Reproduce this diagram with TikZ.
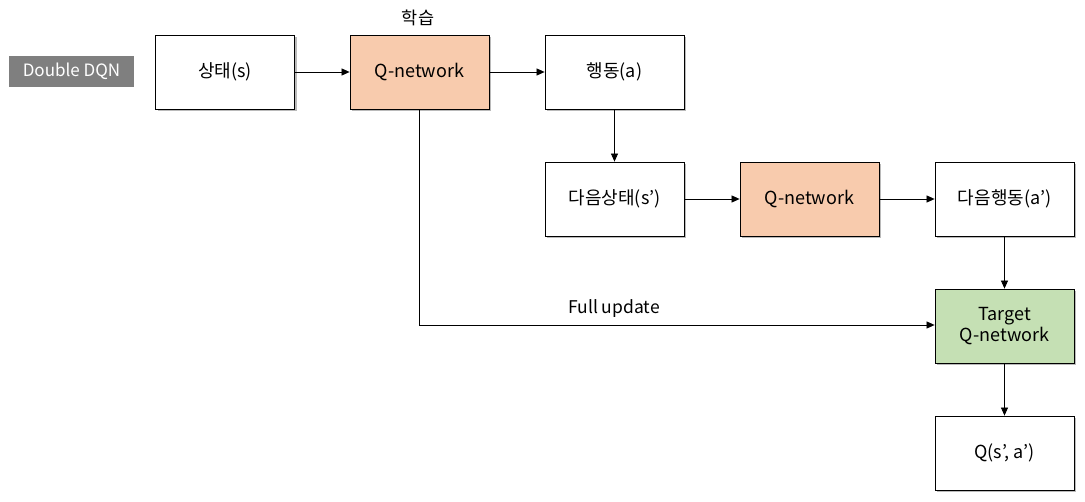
\documentclass[tikz,border=0pt]{standalone}
\usepackage{fontspec}
\setmainfont{Noto Sans CJK KR}
\usetikzlibrary{arrows.meta,shadows,positioning}
\definecolor{orangefill}{HTML}{F8CBAD}
\definecolor{greenfill}{HTML}{C5E0B4}
\definecolor{labelgray}{HTML}{7F7F7F}
\begin{document}
\begin{tikzpicture}[x=1pt,y=-1pt,
  box/.style={draw=black, line width=0.8pt, fill=white, minimum width=139pt, minimum height=74pt,
    inner sep=0pt, font=\fontsize{18}{21}\selectfont, align=center,
    drop shadow={shadow xshift=2pt, shadow yshift=-2.5pt, opacity=0.45, fill=black!60}},
  qbox/.style={box, fill=orangefill},
  tbox/.style={box, fill=greenfill},
  conn/.style={draw=black, line width=0.7pt, -{Triangle[length=8pt,width=7pt]}},
  plain/.style={font=\fontsize{17.5}{20}\selectfont}
]
\useasboundingbox (0,0) rectangle (1085,502);
\node[fill=labelgray, text=white, minimum width=125pt, minimum height=31pt, inner sep=0pt,
  font=\fontsize{17}{20}\selectfont] (title) at (71.5,71.5) {Double DQN};
\node[box] (s) at (225,72) {상태(s)};
\node[qbox] (q1) at (419.5,72) {Q-network};
\node[box] (a) at (614.5,72) {행동(a)};
\node[box] (sn) at (614.5,199) {다음상태(s’)};
\node[qbox] (q2) at (809.5,199) {Q-network};
\node[box] (an) at (1004.5,199) {다음행동(a’)};
\node[tbox] (t) at (1004.5,326) {Target\\Q-network};
\node[box] (qv) at (1004.5,453) {Q(s’, a’)};
\node[plain] (learn) at (418,18) {학습};
\node[plain] (full) at (614,309) {Full update};
\coordinate (bend) at (419.5,325);
\draw[conn] (s.east) -- (q1.west);
\draw[conn] (q1.east) -- (a.west);
\draw[conn] (a.south) -- (sn.north);
\draw[conn] (sn.east) -- (q2.west);
\draw[conn] (q2.east) -- (an.west);
\draw[conn] (an.south) -- (t.north);
\draw[conn] (t.south) -- (qv.north);
\draw[conn] (q1.south) -- (bend) -- (t.west |- bend);
\end{tikzpicture}
\end{document}
